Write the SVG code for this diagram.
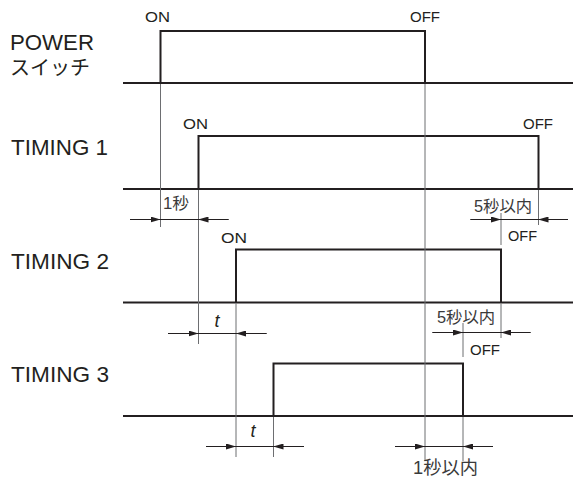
<svg xmlns="http://www.w3.org/2000/svg" width="573" height="477" viewBox="0 0 573 477">
<style>
.sig{fill:none;stroke:#231f20;stroke-width:2}
.thin{fill:none;stroke:#6d6e71;stroke-width:1}
.dim{fill:none;stroke:#231f20;stroke-width:1}
.lbl{font-family:"Liberation Sans","Noto Sans CJK JP",sans-serif;font-size:22px;fill:#231f20}
.st{font-family:"Liberation Sans","Noto Sans CJK JP",sans-serif;font-size:15.5px;fill:#231f20}
.dt{font-family:"Liberation Sans","Noto Sans CJK JP",sans-serif;font-size:16px;fill:#3a3a3a}
.it{font-family:"Liberation Sans",sans-serif;font-size:18px;font-style:italic;fill:#231f20}
</style>
<defs>
<marker id="ah" viewBox="0 0 10 6" refX="10" refY="3" markerWidth="10" markerHeight="6" markerUnits="userSpaceOnUse" orient="auto">
<path d="M0,0 L10,3 L0,6 Z" fill="#231f20"/>
</marker>
</defs>
<g id="labels">
<text class="lbl" x="10" y="50" textLength="84" lengthAdjust="spacingAndGlyphs">POWER</text>
<text class="lbl" x="10" y="75" style="font-size:20px">スイッチ</text>
<text class="lbl" x="11" y="155" textLength="97" lengthAdjust="spacingAndGlyphs">TIMING 1</text>
<text class="lbl" x="11" y="268.5" textLength="98" lengthAdjust="spacingAndGlyphs">TIMING 2</text>
<text class="lbl" x="11" y="382" textLength="98" lengthAdjust="spacingAndGlyphs">TIMING 3</text>
</g>
<g id="power">
<line class="sig" x1="123" y1="83" x2="573" y2="83"/>
<path class="sig" d="M160.5,83 V31 H425 V83"/>
<text class="st" x="145" y="22" textLength="25" lengthAdjust="spacingAndGlyphs">ON</text>
<text class="st" x="410" y="22" textLength="30" lengthAdjust="spacingAndGlyphs">OFF</text>
</g>
<g id="timing1">
<line class="sig" x1="123" y1="189" x2="573" y2="189"/>
<path class="sig" d="M198.5,189 V136 H538.5 V189"/>
<text class="st" x="183" y="129" textLength="25" lengthAdjust="spacingAndGlyphs">ON</text>
<text class="st" x="523" y="129" textLength="30" lengthAdjust="spacingAndGlyphs">OFF</text>
</g>
<g id="timing2">
<line class="sig" x1="123" y1="302.5" x2="573" y2="302.5"/>
<path class="sig" d="M236,302.5 V249.5 H501 V302.5"/>
<text class="st" x="221" y="243" textLength="26" lengthAdjust="spacingAndGlyphs">ON</text>
<text class="st" x="508" y="241" textLength="29" lengthAdjust="spacingAndGlyphs">OFF</text>
</g>
<g id="timing3">
<line class="sig" x1="123" y1="416" x2="573" y2="416"/>
<path class="sig" d="M273.5,416 V363.5 H463 V416"/>
<text class="st" x="470" y="355" textLength="30" lengthAdjust="spacingAndGlyphs">OFF</text>
</g>
<g id="connectors">
<line class="thin" x1="160.5" y1="84" x2="160.5" y2="227"/>
<line class="thin" x1="198.5" y1="190" x2="198.5" y2="344"/>
<line class="thin" x1="236" y1="303.5" x2="236" y2="457"/>
<line class="thin" x1="273.5" y1="417" x2="273.5" y2="457"/>
<line class="thin" x1="425" y1="84" x2="425" y2="461"/>
<line class="thin" x1="463" y1="323" x2="463" y2="357"/>
<line class="thin" x1="463" y1="417" x2="463" y2="461"/>
<line class="thin" x1="501" y1="213" x2="501" y2="245"/>
<line class="thin" x1="501" y1="303.5" x2="501" y2="338"/>
<line class="thin" x1="538.5" y1="190" x2="538.5" y2="225"/>
<line class="dim" x1="130" y1="219.5" x2="228.5" y2="219.5"/>
<line class="dim" x1="130" y1="219.5" x2="160.5" y2="219.5" marker-end="url(#ah)"/>
<line class="dim" x1="228.5" y1="219.5" x2="198.5" y2="219.5" marker-end="url(#ah)"/>
<line class="dim" x1="168" y1="333.5" x2="266.5" y2="333.5"/>
<line class="dim" x1="168" y1="333.5" x2="198.5" y2="333.5" marker-end="url(#ah)"/>
<line class="dim" x1="266.5" y1="333.5" x2="236" y2="333.5" marker-end="url(#ah)"/>
<line class="dim" x1="470.5" y1="219.5" x2="568" y2="219.5"/>
<line class="dim" x1="470.5" y1="219.5" x2="501" y2="219.5" marker-end="url(#ah)"/>
<line class="dim" x1="568" y1="219.5" x2="538.5" y2="219.5" marker-end="url(#ah)"/>
<line class="dim" x1="432.5" y1="332.5" x2="530.5" y2="332.5"/>
<line class="dim" x1="432.5" y1="332.5" x2="463" y2="332.5" marker-end="url(#ah)"/>
<line class="dim" x1="530.5" y1="332.5" x2="501" y2="332.5" marker-end="url(#ah)"/>
<line class="dim" x1="206" y1="446.5" x2="304" y2="446.5"/>
<line class="dim" x1="206" y1="446.5" x2="236" y2="446.5" marker-end="url(#ah)"/>
<line class="dim" x1="304" y1="446.5" x2="273.5" y2="446.5" marker-end="url(#ah)"/>
<line class="dim" x1="395" y1="446.5" x2="493" y2="446.5"/>
<line class="dim" x1="395" y1="446.5" x2="425" y2="446.5" marker-end="url(#ah)"/>
<line class="dim" x1="493" y1="446.5" x2="463" y2="446.5" marker-end="url(#ah)"/>
</g>
<g id="dimension-labels">
<text class="dt" x="163" y="209" textLength="26" lengthAdjust="spacingAndGlyphs">1秒</text>
<text class="dt" x="474" y="211.5" textLength="58" lengthAdjust="spacingAndGlyphs">5秒以内</text>
<text class="dt" x="437" y="323" textLength="58" lengthAdjust="spacingAndGlyphs">5秒以内</text>
<text class="dt" x="413" y="474" style="font-size:18px" textLength="65" lengthAdjust="spacingAndGlyphs">1秒以内</text>
<text class="it" x="217" y="327" text-anchor="middle">t</text>
<text class="it" x="253" y="437" text-anchor="middle">t</text>
</g>
</svg>
